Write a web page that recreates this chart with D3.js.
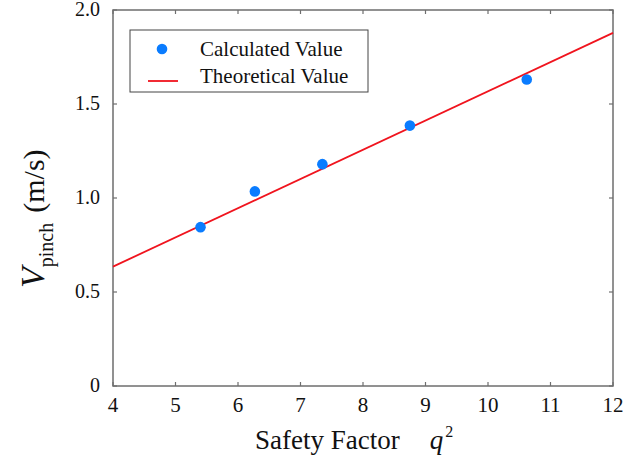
<!DOCTYPE html>
<html>
<head>
<meta charset="utf-8">
<title>Vpinch vs q^2</title>
<style>
    html, body { margin: 0px; padding: 0px; background: #fff; }
    svg text { font-family: 'Liberation Serif', 'Times New Roman', serif; fill: #111; }
</style>
<script src="https://d3js.org/d3.v7.min.js"></script>
</head>
<body>
<script>
    // calculated points (q^2, Vpinch)
    var qSquared = [5.4, 6.27, 7.35, 8.75, 10.62];
    var vCalc = [0.845, 1.035, 1.18, 1.385, 1.63];
    // theoretical line end points
    var lineX = [4, 12];
    var lineY = [0.635, 1.878];
    var xTicks = [4, 5, 6, 7, 8, 9, 10, 11, 12];
    var yTicks = [0, 0.5, 1.0, 1.5, 2.0];
    var yTickLabels = ["0", "0.5", "1.0", "1.5", "2.0"];

    var W = 639, H = 462;
    var pLeft = 113, pRight = 613, pTop = 10, pBottom = 386;

    var svg = d3.select("body").append("svg")
        .attr("width", W).attr("height", H);

    var x = d3.scaleLinear().domain([4, 12]).range([pLeft, pRight]);
    var y = d3.scaleLinear().domain([0, 2]).range([pBottom, pTop]);

    var axisColor = "#6e6e6e";

    // frame
    svg.append("rect")
        .attr("x", pLeft).attr("y", pTop)
        .attr("width", pRight - pLeft).attr("height", pBottom - pTop)
        .attr("fill", "none").attr("stroke", axisColor).attr("stroke-width", 1.5);

    // inward ticks on all sides
    var tk = 4;
    xTicks.forEach(function(t) {
        svg.append("line").attr("x1", x(t)).attr("x2", x(t))
            .attr("y1", pBottom).attr("y2", pBottom - tk)
            .attr("stroke", axisColor).attr("stroke-width", 1.2);
        svg.append("line").attr("x1", x(t)).attr("x2", x(t))
            .attr("y1", pTop).attr("y2", pTop + tk)
            .attr("stroke", axisColor).attr("stroke-width", 1.2);
        svg.append("text").attr("x", x(t)).attr("y", pBottom + 26)
            .attr("text-anchor", "middle").attr("font-size", 21).text(t);
    });
    yTicks.forEach(function(t, i) {
        svg.append("line").attr("x1", pLeft).attr("x2", pLeft + tk)
            .attr("y1", y(t)).attr("y2", y(t))
            .attr("stroke", axisColor).attr("stroke-width", 1.2);
        svg.append("line").attr("x1", pRight).attr("x2", pRight - tk)
            .attr("y1", y(t)).attr("y2", y(t))
            .attr("stroke", axisColor).attr("stroke-width", 1.2);
        svg.append("text").attr("x", pLeft - 13).attr("y", y(t) + 6)
            .attr("text-anchor", "end").attr("font-size", 20).text(yTickLabels[i]);
    });

    // theoretical line
    var line = d3.line()
        .x(function(d, i) { return x(lineX[i]); })
        .y(function(d) { return y(d); });
    svg.append("path").attr("d", line(lineY))
        .attr("fill", "none").attr("stroke", "#f0141e").attr("stroke-width", 1.8);

    // calculated points
    svg.selectAll("circle.pt").data(vCalc).enter().append("circle")
        .attr("class", "pt")
        .attr("cx", function(d, i) { return x(qSquared[i]); })
        .attr("cy", function(d) { return y(d); })
        .attr("r", 5.3)
        .attr("fill", "#0a7cff");

    // legend
    svg.append("rect").attr("x", 130).attr("y", 30).attr("width", 238).attr("height", 62)
        .attr("fill", "#fff").attr("stroke", "#444").attr("stroke-width", 1);
    svg.append("circle").attr("cx", 162).attr("cy", 49).attr("r", 5.3).attr("fill", "#0a7cff");
    svg.append("text").attr("x", 200).attr("y", 56).attr("font-size", 21).text("Calculated Value");
    svg.append("line").attr("x1", 148).attr("x2", 178).attr("y1", 81).attr("y2", 81)
        .attr("stroke", "#f0141e").attr("stroke-width", 1.8);
    svg.append("text").attr("x", 200).attr("y", 83).attr("font-size", 21).text("Theoretical Value");

    // x axis label
    var xl = svg.append("text").attr("x", 255).attr("y", 449).attr("font-size", 27);
    xl.append("tspan").text("Safety Factor");
    xl.append("tspan").attr("dx", 30).attr("font-style", "italic").text("q");
    xl.append("tspan").attr("dy", -12).attr("dx", 2).attr("font-size", 16).text("2");

    // y axis label
    var yl = svg.append("text")
        .attr("transform", "translate(44,288) rotate(-90)")
        .attr("font-size", 34);
    yl.append("tspan").attr("font-style", "italic").text("V");
    yl.append("tspan").attr("dy", 9).attr("font-size", 20).text("pinch");
    yl.append("tspan").attr("dy", -9).attr("dx", 10).attr("font-size", 30).text("(m/s)");
</script>
</body>
</html>
